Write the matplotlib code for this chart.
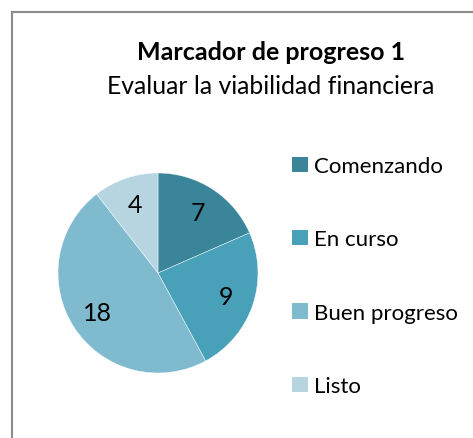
import matplotlib
matplotlib.use("Agg")
import matplotlib.pyplot as plt
from matplotlib.lines import Line2D

categories = ["Comenzando", "En curso", "Buen progreso", "Listo"]
values = [7, 9, 18, 4]
colors = ["#3A8599", "#48A1B8", "#7FBACF", "#B6D5E0"]
title = "Marcador de progreso 1"
subtitle = "Evaluar la viabilidad financiera"

W, H = 473, 439
DPI = 100
plt.rcParams['font.family'] = ['Lato', 'DejaVu Sans']
fig = plt.figure(figsize=(W / DPI, H / DPI), dpi=DPI)

# frame
lw = 1.5
fig.add_artist(Line2D([11.5 / W, 11.5 / W], [0, 1 - 13 / H], transform=fig.transFigure,
                      color="#8C8C8C", lw=lw))
fig.add_artist(Line2D([11.5 / W, 1], [1 - 13 / H, 1 - 13 / H], transform=fig.transFigure,
                      color="#8C8C8C", lw=lw))

# titles
fig.text(271 / W, 1 - 52 / H, title, ha="center", va="center", fontsize=18,
         fontweight="bold", color="#000000")
fig.text(271 / W, 1 - 86 / H, subtitle, ha="center", va="center", fontsize=17.8,
         color="#000000")

# pie
cx, cy, r = 158, 274, 100
ax = fig.add_axes([(cx - r) / W, (H - cy - r) / H, 2 * r / W, 2 * r / H])
wedges, texts, autotexts = ax.pie(values, colors=colors, startangle=90, counterclock=False,
                                  radius=1, autopct=lambda p: f"{round(p * sum(values) / 100):d}",
                                  pctdistance=0.72,
                                  wedgeprops=dict(linewidth=0.3, edgecolor="white"),
                                  textprops=dict(fontsize=18, color="#000000"))
ax.set_xlim(-1, 1)
ax.set_ylim(-1, 1)
ax.set_aspect("equal")
ax.axis("off")

# legend
leg = fig.legend(wedges, categories, loc="upper left",
                 bbox_to_anchor=(281 / W, 1 - 146 / H), frameon=False,
                 fontsize=16, handlelength=0.7, handleheight=0.7,
                 handletextpad=0.3, labelspacing=2.4, borderpad=0)
for h in leg.legend_handles:
    h.set_linewidth(0)

fig.savefig("out.png", dpi=DPI, facecolor="white")
